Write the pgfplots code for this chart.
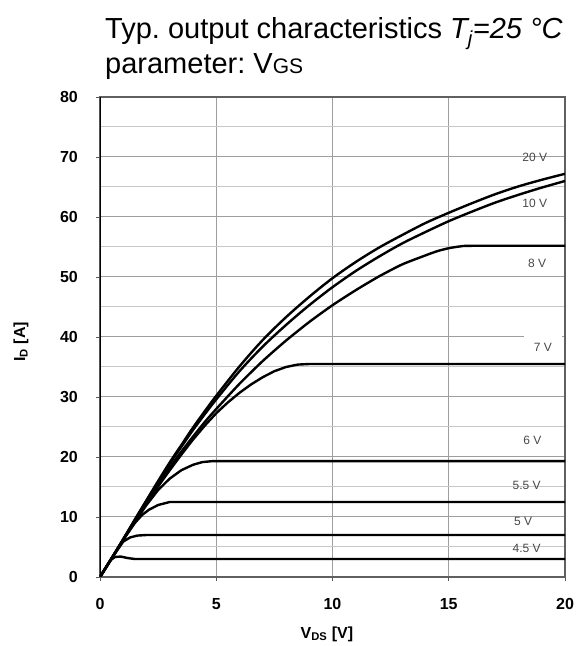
\documentclass[border=0pt]{standalone}
\usepackage{fontspec}
\setmainfont{Liberation Sans}
\usepackage{pgfplots}
\pgfplotsset{compat=1.18}
\definecolor{gridmaj}{gray}{0.62}
\definecolor{gridmin}{gray}{0.78}
\definecolor{lbl}{gray}{0.28}
\frenchspacing
\begin{document}
\begin{tikzpicture}
\begin{axis}[
  scale only axis,
  width=465bp, height=480bp,
  xmin=0, xmax=20, ymin=0, ymax=80,
  xtick={0,5,10,15,20},
  ytick={0,10,...,80},
  minor ytick={5,15,...,75},
  grid=both,
  major grid style={draw=gridmaj, line width=1bp},
  minor grid style={draw=gridmin, line width=1bp},
  axis line style={draw=gray!75!black, line width=1.2bp},
  tick align=outside,
  xtick pos=bottom, ytick pos=left,
  major tick length=4bp, minor tick length=0pt,
  tick style={draw=gray!70!black, line width=0.8bp},
  /pgf/number format/assume math mode=true,
  ticklabel style={font=\fontsize{16bp}{18bp}\selectfont\bfseries},
  yticklabel style={anchor=east, inner sep=0pt, xshift=-18bp},
  xticklabel style={anchor=north, inner sep=0pt, yshift=-17bp},
  every axis x label/.style={at={(axis description cs:0.488,0)}, anchor=center, yshift=-57bp, font=\fontsize{16bp}{19bp}\selectfont\bfseries},
  every axis y label/.style={at={(axis description cs:-0.17,0.49)}, rotate=90, anchor=center, font=\fontsize{16bp}{19bp}\selectfont\bfseries},
  xlabel={V\textsubscript{DS} [V]},
  ylabel={I\textsubscript{D} [A]},
  clip=true,
]
% 20 V
\addplot[black, line width=2.4bp, smooth, tension=0.5] table {
0 0
0.5 3.1
1 6.3
1.5 9.6
2 12.8
2.5 16
3 19.1
3.5 22
4 24.9
4.5 27.6
5 30.2
6 35.1
7 39.5
8 43.3
9 46.7
10 49.8
11 52.5
12 54.9
13 57.0
14 59.0
15 60.7
16 62.3
17 63.8
18 65.1
19 66.2
20 67.2
};
% 10 V
\addplot[black, line width=2.4bp, smooth, tension=0.5] table {
0 0
0.5 3.1
1 6.3
1.5 9.5
2 12.7
2.5 15.8
3 18.9
3.5 21.7
4 24.5
4.5 27.1
5 29.6
6 34.3
7 38.4
8 42.0
9 45.3
10 48.3
11 51.0
12 53.4
13 55.6
14 57.5
15 59.3
16 60.9
17 62.4
18 63.7
19 64.9
20 66.0
};
% 8 V
\addplot[black, line width=2.4bp, smooth, tension=0.4] table {
0 0
0.5 3.1
1 6.3
1.5 9.4
2 12.5
2.5 15.4
3 18.3
3.5 20.9
4 23.4
4.5 25.8
5 28.0
6 32.2
7 36.0
8 39.4
9 42.5
10 45.3
11 47.8
12 50.1
13 52.1
14 53.6
14.5 54.3
15 54.8
15.5 55.1
16 55.2
20 55.2
};
% 7 V
\addplot[black, line width=2.4bp, line join=round] table {
0 0
0.5 3.1
1 6.2
1.5 9.3
2 12.3
2.5 15.1
3 17.8
3.5 20.4
4 22.9
4.5 25.2
5 27.3
5.5 29.1
6 30.7
6.5 32.1
7 33.3
7.5 34.3
8 35.0
8.5 35.4
9 35.5
20 35.5
};
% 6 V
\addplot[black, line width=2.4bp, line join=round] table {
0 0
0.5 3.1
1 6.2
1.5 9.2
2 12.0
2.5 14.5
3 16.4
3.5 17.8
4 18.7
4.4 19.15
4.8 19.3
20 19.3
};
% 5.5 V
\addplot[black, line width=2.4bp, line join=round] table {
0 0
0.5 3.1
1 6.2
1.5 9.0
1.8 10.3
2.1 11.2
2.5 12.0
3 12.5
20 12.5
};
% 5 V
\addplot[black, line width=2.4bp, line join=round] table {
0 0
0.5 3.1
1 5.9
1.3 6.6
1.6 6.9
2 7.0
20 7.0
};
% 4.5 V
\addplot[black, line width=2.4bp, line join=round] table {
0 0
0.45 2.8
0.65 3.35
0.9 3.4
1.2 3.15
1.5 3.0
20 3.0
};
\draw[black, line width=2bp] (rel axis cs:0,0) -- (rel axis cs:0,1);
\node[fill=white, inner sep=0pt, minimum width=38bp, minimum height=24bp] at (axis cs:19.07,38.8) {};
\begin{scope}[every node/.style={font=\fontsize{12bp}{13bp}\selectfont, text=lbl, inner sep=0pt}]
\node at (axis cs:18.7,70.0) {20 V};
\node at (axis cs:18.7,62.2) {10 V};
\node at (axis cs:18.8,52.3) {8 V};
\node at (axis cs:19.05,38.3) {7 V};
\node at (axis cs:18.6,22.7) {6 V};
\node at (axis cs:18.35,15.2) {5.5 V};
\node at (axis cs:18.2,9.3) {5 V};
\node at (axis cs:18.35,4.8) {4.5 V};
\end{scope}
\end{axis}
\node[anchor=base west, inner sep=0pt, font=\fontsize{29bp}{34bp}\selectfont] at (5bp,538bp) {Typ. output characteristics {\itshape T\textsubscript{j}=25 °C}};
\node[anchor=base west, inner sep=0pt, font=\fontsize{29bp}{34bp}\selectfont] at (5bp,503.5bp) {parameter: V{\fontsize{21bp}{24bp}\selectfont GS}};
\pgfresetboundingbox
\path[use as bounding box] (-100bp,-69bp) rectangle (481bp,577bp);
\end{tikzpicture}
\end{document}
